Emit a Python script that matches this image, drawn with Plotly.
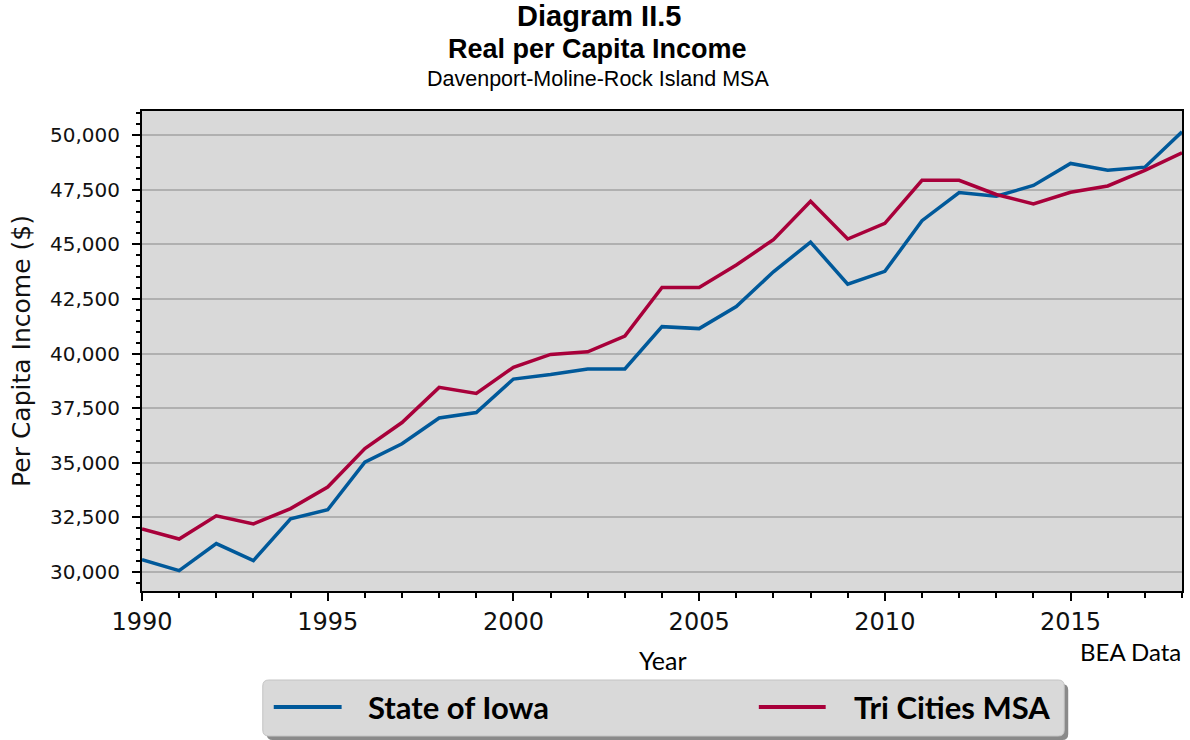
import plotly.graph_objects as go

years = list(range(1990, 2019))
iowa = [30560, 30060, 31300, 30520, 32430, 32850, 35030, 35870, 37050, 37300,
        38830, 39040, 39290, 39290, 41230, 41140, 42150, 43740, 45100, 43170,
        43760, 46080, 47370, 47200, 47690, 48700, 48390, 48530, 50150]
tri_cities = [31970, 31510, 32570, 32200, 32900, 33890, 35650, 36840, 38450, 38170,
              39370, 39960, 40080, 40800, 43020, 43020, 44050, 45210, 46970, 45240,
              45960, 47930, 47930, 47280, 46850, 47380, 47670, 48380, 49190]
series_names = ["State of Iowa", "Tri Cities MSA"]
series_colors = ["#00599a", "#a8003a"]

W, H = 1190, 740
L, R, T, B = 142, 6, 111, 149
PW, PH = W - L - R, H - T - B


def px(x):
    return (x - L) / PW


def py(y):
    return (H - B - y) / PH


def rrect(x0, y0, x1, y1, r):
    rx, ry = r / PW, r / PH
    a, b, c, d = px(x0), py(y0), px(x1), py(y1)
    return (f"M{a+rx},{b} L{c-rx},{b} Q{c},{b} {c},{b-ry} "
            f"L{c},{d+ry} Q{c},{d} {c-rx},{d} L{a+rx},{d} "
            f"Q{a},{d} {a},{d+ry} L{a},{b-ry} Q{a},{b} {a+rx},{b} Z")


fig = go.Figure()
for name, vals, col in zip(series_names, [iowa, tri_cities], series_colors):
    fig.add_trace(go.Scatter(x=years, y=vals, mode="lines", name=name,
                             line=dict(color=col, width=3.5), showlegend=False))

fig.update_layout(
    width=W, height=H, autosize=False,
    margin=dict(l=L, r=R, t=T, b=B, pad=0),
    paper_bgcolor="white", plot_bgcolor="#d9d9d9",
    xaxis=dict(range=[1990, 2018], tick0=1990, dtick=5, ticks="outside", ticklen=8,
               tickwidth=1.5, tickcolor="black", showgrid=False, zeroline=False,
               showline=True, linecolor="black", linewidth=2, mirror=True,
               tickfont=dict(family="DejaVu Sans", size=24, color="#111"),
               ticklabelstandoff=0,
               minor=dict(dtick=1, tick0=1990, ticks="outside", ticklen=5,
                          tickwidth=1.5, tickcolor="black", showgrid=False)),
    yaxis=dict(range=[29130, 51100], tick0=30000, dtick=2500, tickformat=",",
               ticks="outside", ticklen=8, tickwidth=1.5, tickcolor="black",
               showgrid=True, gridcolor="#b0b0b0", gridwidth=2, zeroline=False,
               showline=True, linecolor="black", linewidth=2, mirror=True,
               tickfont=dict(family="DejaVu Sans", size=20, color="#111"),
               ticklabelstandoff=8,
               title=dict(text="Per Capita Income ($)",
                          font=dict(family="DejaVu Sans", size=25, color="#111"),
                          standoff=12),
               minor=dict(dtick=500, tick0=30000, ticks="outside", ticklen=4,
                          tickwidth=1.5, tickcolor="black", showgrid=False)),
)

annots = [
    dict(text="<b>Diagram II.5</b>", x=px(600), y=py(16), size=29, fam="Liberation Sans", xa="center"),
    dict(text="<b>Real per Capita Income</b>", x=px(598.5), y=py(49), size=27, fam="Liberation Sans", xa="center"),
    dict(text="Davenport-Moline-Rock Island MSA", x=px(599), y=py(78.5), size=21.5, fam="Liberation Sans", xa="center"),
    dict(text="Year", x=px(664), y=py(660), size=25, fam="Lato", xa="center"),
    dict(text="BEA Data", x=px(1185), y=py(651), size=24, fam="Lato", xa="right"),
]
for a in annots:
    fig.add_annotation(text=a["text"], x=a["x"], y=a["y"], xref="paper", yref="paper",
                       xanchor=a["xa"], yanchor="middle", showarrow=False,
                       font=dict(family=a["fam"], size=a["size"], color="black"))

# legend box with shadow
fig.add_shape(type="path", path=rrect(267, 684, 1070, 740, 6), xref="paper", yref="paper",
              fillcolor="#8a8a8a", line=dict(width=0), layer="above")
fig.add_shape(type="path", path=rrect(263, 680, 1066, 736, 6), xref="paper", yref="paper",
              fillcolor="#d9d9d9", line=dict(color="#c4c4c4", width=1), layer="above")

leg_items = [(274, 342, 366), (760, 827, 853)]
for (x0, x1, tx), name, col in zip(leg_items, series_names, series_colors):
    fig.add_shape(type="line", x0=px(x0), x1=px(x1), y0=py(707), y1=py(707),
                  xref="paper", yref="paper", line=dict(color=col, width=4), layer="above")
    fig.add_annotation(text=f"<b>{name}</b>", x=px(tx), y=py(707), xref="paper", yref="paper",
                       xanchor="left", yanchor="middle", showarrow=False,
                       font=dict(family="Lato", size=31, color="black"))

fig.write_html("out.html", config={"displayModeBar": False},
               post_script="document.body.style.margin='0';document.body.style.overflow='hidden';")
